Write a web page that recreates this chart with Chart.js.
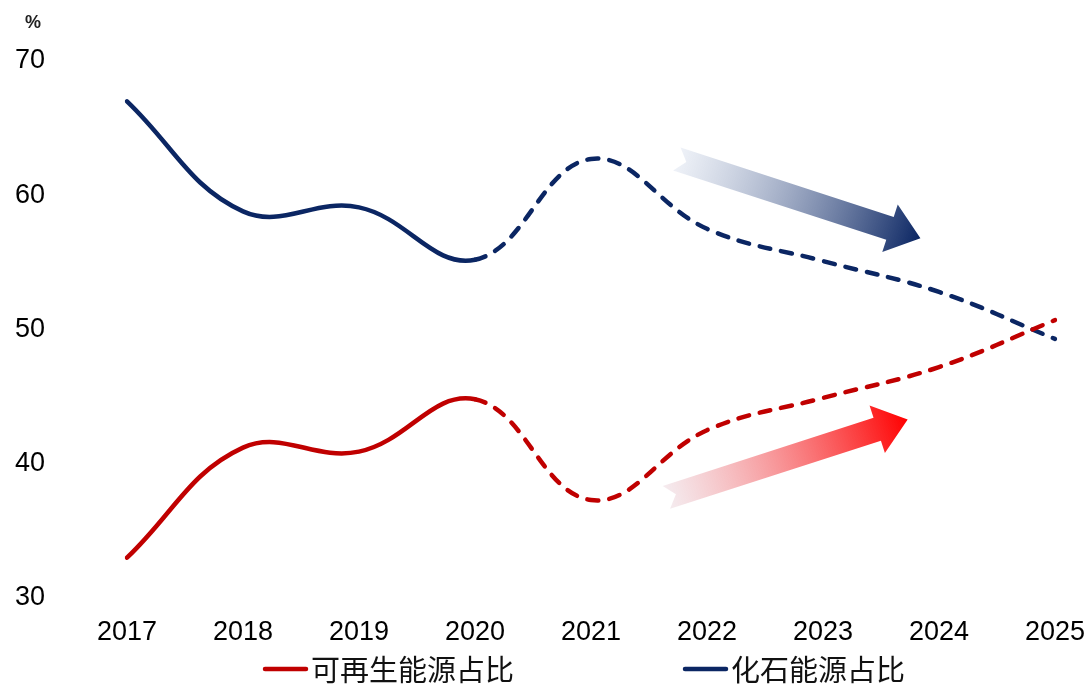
<!DOCTYPE html>
<html>
<head>
<meta charset="utf-8">
<script src="https://cdn.jsdelivr.net/npm/chart.js@4/dist/chart.umd.min.js"></script>
<style>
  html, body { margin: 0; padding: 0; background: #fff; }
  #wrap { width: 1091px; height: 688px; position: relative; }
</style>
</head>
<body>
<div id="wrap"><canvas id="c"></canvas></div>
<script>
  const years = ["2017", "2018", "2019", "2020", "2021", "2022", "2023", "2024", "2025"];
  const renewShare = [33.0, 41.2, 40.9, 44.8, 37.3, 42.5, 44.9, 47.2, 50.7];
  const fossilShare = [67.0, 58.8, 59.1, 55.2, 62.7, 57.5, 55.1, 52.8, 49.3];
  const seriesNames = ["可再生能源占比", "化石能源占比"];
  const yTicks = [30, 40, 50, 60, 70];
  const unitLabel = "%";
  // last actual year index; segments after it are forecasts (dashed)
  const lastActual = 3;

  const RED = "#c00000";
  const NAVY = "#0b2663";
  const TICK_FONT = { family: '"Liberation Sans", Arial, sans-serif', size: 27 };

  // trend arrows, in data units (x = category index, y = value)
  const arrows = [
    { from: [4.74, 62.7], to: [6.84, 56.8], c0: "rgba(225,231,242,0.55)", c1: "#0b2663" },
    { from: [4.65, 37.5], to: [6.73, 43.3], c0: "rgba(238,222,228,0.6)", c1: "#ff0000" },
  ];

  const dashed = (ctx) => (ctx.p0DataIndex >= lastActual ? [11, 11] : undefined);

  const arrowPlugin = {
    id: "trendArrows",
    beforeDatasetsDraw(chart) {
      const { ctx } = chart;
      const xs = chart.scales.x, ys = chart.scales.y;
      arrows.forEach((a) => {
        const x0 = xs.getPixelForValue(a.from[0]), y0 = ys.getPixelForValue(a.from[1]);
        const x1 = xs.getPixelForValue(a.to[0]), y1 = ys.getPixelForValue(a.to[1]);
        const len = Math.hypot(x1 - x0, y1 - y0);
        const ang = Math.atan2(y1 - y0, x1 - x0);
        const shaft = 12, head = 25, headLen = 32, notch = 10;
        ctx.save();
        ctx.translate(x0, y0);
        ctx.rotate(ang);
        const g = ctx.createLinearGradient(0, 0, len, 0);
        g.addColorStop(0, a.c0);
        g.addColorStop(1, a.c1);
        ctx.fillStyle = g;
        ctx.beginPath();
        ctx.moveTo(0, -shaft);
        ctx.lineTo(len - headLen, -shaft);
        ctx.lineTo(len - headLen, -head);
        ctx.lineTo(len, 0);
        ctx.lineTo(len - headLen, head);
        ctx.lineTo(len - headLen, shaft);
        ctx.lineTo(0, shaft);
        ctx.lineTo(notch, 0);
        ctx.closePath();
        ctx.fill();
        ctx.restore();
      });
    },
  };

  const extrasPlugin = {
    id: "extras",
    afterDraw(chart) {
      const { ctx } = chart;
      const ys = chart.scales.y;
      ctx.save();
      // unit label above the y axis
      ctx.fillStyle = "#222";
      ctx.font = 'bold 18px "Liberation Sans Narrow", "Liberation Sans", sans-serif';
      ctx.textAlign = "center";
      ctx.textBaseline = "middle";
      ctx.fillText(unitLabel, ys.left + 18, ys.getPixelForValue(70) - 38);

      // legend row
      const startX = [263, 683];
      const rowY = 669;
      ctx.font = '29px "Noto Sans CJK SC", sans-serif';
      ctx.textAlign = "left";
      chart.data.datasets.forEach((d, i) => {
        const x = startX[i];
        ctx.strokeStyle = d.borderColor;
        ctx.lineWidth = 4.5;
        ctx.lineCap = "round";
        ctx.beginPath();
        ctx.moveTo(x + 2, rowY);
        ctx.lineTo(x + 43, rowY);
        ctx.stroke();
        ctx.fillStyle = "#111";
        ctx.fillText(d.label, x + 48, rowY + 1);
      });
      ctx.restore();
    },
  };

  new Chart(document.getElementById("c"), {
    type: "line",
    data: {
      labels: years,
      datasets: [
        {
          label: seriesNames[0],
          data: renewShare,
          borderColor: RED,
          backgroundColor: RED,
          borderWidth: 4.5,
          borderCapStyle: "round",
          tension: 0.4,
          pointRadius: 0,
          segment: { borderDash: dashed },
        },
        {
          label: seriesNames[1],
          data: fossilShare,
          borderColor: NAVY,
          backgroundColor: NAVY,
          borderWidth: 4.5,
          borderCapStyle: "round",
          tension: 0.4,
          pointRadius: 0,
          segment: { borderDash: dashed },
        },
      ],
    },
    options: {
      responsive: true,
      maintainAspectRatio: false,
      animation: false,
      layout: { padding: { left: 15, right: 36, top: 61, bottom: 0 } },
      plugins: {
        legend: { display: false },
        tooltip: { enabled: false },
      },
      scales: {
        x: {
          offset: false,
          grid: { display: false, drawTicks: false },
          border: { display: false },
          ticks: { color: "#000", font: TICK_FONT, padding: 18, maxRotation: 0, autoSkip: false },
          afterFit: (s) => {
            s.height = 90;
            s.paddingLeft = 0;
            s.paddingRight = 0;
          },
        },
        y: {
          min: 30,
          max: 70,
          afterBuildTicks: (s) => { s.ticks = yTicks.map((v) => ({ value: v })); },
          grid: { display: false, drawTicks: false },
          border: { display: false },
          ticks: { color: "#000", font: TICK_FONT, crossAlign: "far", padding: 0 },
          afterFit: (s) => { s.width = 112; },
        },
      },
    },
    plugins: [arrowPlugin, extrasPlugin],
  });
</script>
</body>
</html>
